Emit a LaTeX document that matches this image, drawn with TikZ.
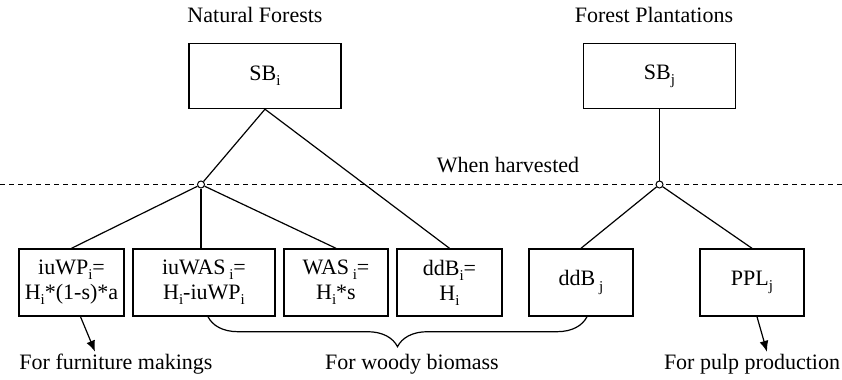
\documentclass[tikz,border=0pt]{standalone}
\usepackage{fontspec}
\setmainfont{Liberation Serif}
\usepackage{tikz}
\usetikzlibrary{arrows.meta,positioning,decorations.pathreplacing}
\newcommand{\subix}[1]{\raisebox{-2.6pt}{\fontsize{7.5pt}{8pt}\selectfont #1}}
\tikzstyle{block} = [rectangle, draw=black, line width=0.7pt, minimum width=52pt, minimum height=33.5pt, inner sep=0pt, align=center]
\tikzstyle{line} = [draw=black, line width=0.6pt]
\tikzstyle{arrow} = [line width=0.6pt, -{Latex[length=5.5pt,width=4.5pt]}]
\tikzstyle{junction} = [circle, draw=black, line width=0.5pt, fill=white, inner sep=0pt, minimum size=3.5pt]
\tikzstyle{lbl} = [inner sep=1pt, anchor=base]

\begin{document}
\begin{tikzpicture}[x=0.5pt, y=-0.5pt, font=\fontsize{11pt}{12.5pt}\selectfont]
	\useasboundingbox (0,0) rectangle (842,380);
	% stands before harvest
	\node[lbl] (natural) at (255,22.5) {Natural Forests};
	\node[lbl] (plant) at (654,22.5) {Forest Plantations};
	\node[block, minimum width=76pt, minimum height=32.5pt] (sbi) at (265,76) {SB\subix{i}};
	\node[block, minimum width=76pt, minimum height=32.5pt] (sbj) at (659.5,76) {SB\subix{j}};
	% harvest line
	\coordinate (hl) at (0,184.5);
	\coordinate (hr) at (842,184.5);
	\draw[line, dash pattern=on 2.5pt off 2pt] (hl) -- (hr);
	\node[lbl] (harv) at (508,172.5) {When harvested};
	\node[junction] (jni) at (201,184.5) {};
	\node[junction] (jnj) at (659.5,184.5) {};
	% harvested wood pools
	\node[block, minimum width=52.5pt] (wp) at (71.5,282.5) {iuWP\subix{i}=\\H\subix{i}*(1-s)*a};
	\node[block, minimum width=71pt] (iuwas) at (204,282.5) {iuWAS\,\subix{i}=\\H\subix{i}-iuWP\subix{i}};
	\node[block] (was) at (336,282.5) {WAS\,\subix{i}=\\H\subix{i}*s};
	\node[block, minimum width=52.5pt] (ddbi) at (449.5,282.5) {ddB\subix{i}=\\H\subix{i}};
	\node[block] (ddbj) at (581,282.5) {ddB\,\subix{j}};
	\node[block] (ppl) at (752,282.5) {PPL\subix{j}};
	% end uses
	\node[lbl] (furn) at (116,369.5) {For furniture makings};
	\node[lbl] (woody) at (412,369.5) {For woody biomass};
	\node[lbl] (pulp) at (752,369.5) {For pulp production};
	% connections
	\draw[line] (sbi.south) -- (jni);
	\draw[line] (sbi.south) -- (ddbi.north);
	\draw[line] (jni) -- (wp.north);
	\draw[line] (jni) -- (iuwas.north -| jni);
	\draw[line] (jni) -- (was.north);
	\draw[line] (sbj) -- (jnj);
	\draw[line] (jnj) -- (ddbj.north);
	\draw[line] (jnj) -- (ppl.north);
	\draw[arrow] ([xshift=4.5pt]wp.south) -- ([xshift=-10.5pt]furn.north);
	\draw[arrow] ([xshift=2.5pt]ppl.south) -- ([xshift=7.5pt]pulp.north);
	\draw[line, decorate, decoration={brace, amplitude=15pt, mirror}] ([xshift=2pt]iuwas.south) -- ([xshift=3pt]ddbj.south);
\end{tikzpicture}
\end{document}
